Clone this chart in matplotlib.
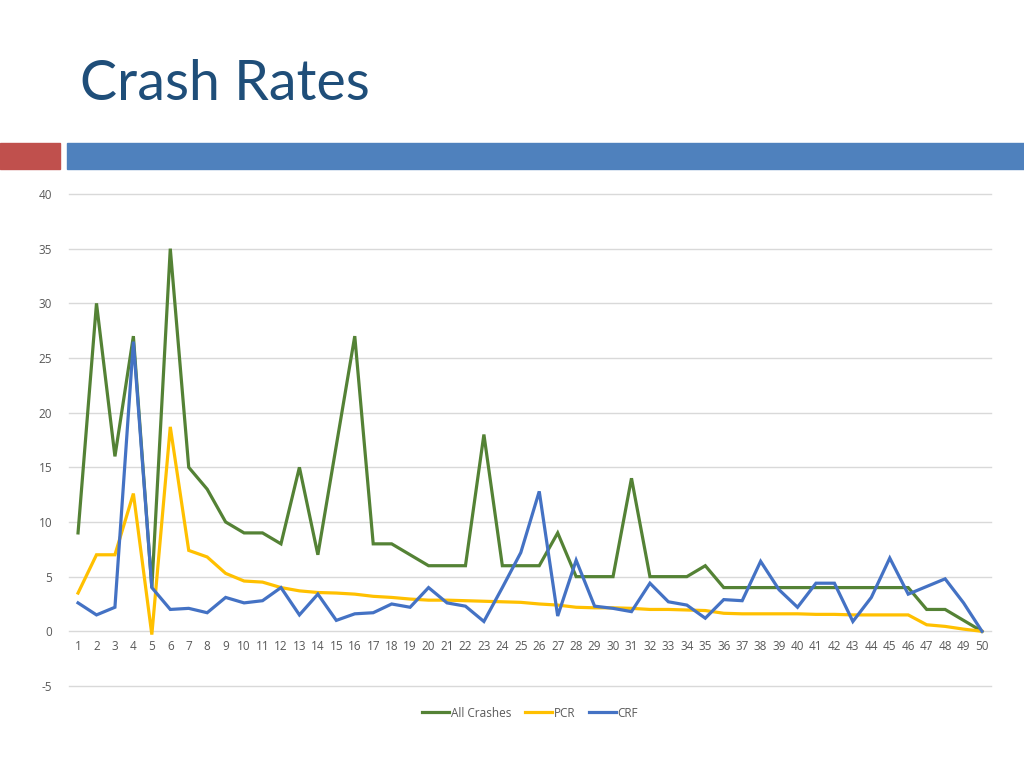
import matplotlib
matplotlib.use('Agg')
from matplotlib import pyplot as plt
from matplotlib.patches import Rectangle

# data
points = list(range(1, 51))

all_crashes = [9, 30, 16, 27, 4, 35, 15, 13, 10, 9,
               9, 8, 15, 7, 17, 27, 8, 8, 7, 6,
               6, 6, 18, 6, 6, 6, 9, 5, 5, 5,
               14, 5, 5, 5, 6, 4, 4, 4, 4, 4,
               4, 4, 4, 4, 4, 4, 2, 2, 1, 0]

pcr = [3.5, 7.0, 7.0, 12.6, -0.3, 18.7, 7.4, 6.8, 5.3, 4.6,
       4.5, 4.0, 3.7, 3.55, 3.5, 3.4, 3.2, 3.1, 2.95, 2.85,
       2.85, 2.8, 2.75, 2.7, 2.65, 2.5, 2.4, 2.2, 2.15, 2.15,
       2.1, 2.0, 2.0, 1.95, 1.9, 1.65, 1.6, 1.6, 1.6, 1.6,
       1.55, 1.55, 1.5, 1.5, 1.5, 1.5, 0.6, 0.45, 0.2, 0.0]

crf = [2.6, 1.5, 2.2, 26.5, 4.0, 2.0, 2.1, 1.7, 3.1, 2.6,
       2.8, 4.0, 1.5, 3.4, 1.0, 1.6, 1.7, 2.5, 2.2, 4.0,
       2.6, 2.3, 0.9, 4.0, 7.2, 12.8, 1.4, 6.5, 2.3, 2.1,
       1.8, 4.4, 2.7, 2.4, 1.2, 2.9, 2.8, 6.4, 3.8, 2.2,
       4.4, 4.4, 0.9, 3.1, 6.7, 3.4, 4.1, 4.8, 2.6, 0.0]

series_names = ['All Crashes', 'PCR', 'CRF']
series_colors = ['#548235', '#FFC000', '#4472C4']
y_ticks = list(range(-5, 45, 5))

plt.rcParams['axes.unicode_minus'] = False

fig = plt.figure(figsize=(10.24, 7.68), dpi=100)

# slide title and header bars
fig.text(80 / 1024, 1 - 84 / 768, 'Crash Rates', fontsize=40, color='#1F4E79',
         family='Lato', va='center', ha='left')
fig.patches.append(Rectangle((0, 1 - 169 / 768), 60 / 1024, 26 / 768,
                             transform=fig.transFigure, color='#C0504D'))
fig.patches.append(Rectangle((67 / 1024, 1 - 169 / 768), 1 - 67 / 1024, 26 / 768,
                             transform=fig.transFigure, color='#4F81BD'))

ax = fig.add_axes([0.0672, 0.1068, 0.9008, 0.6406])

for vals, name, col in zip([all_crashes, pcr, crf], series_names, series_colors):
    ax.plot(points, vals, color=col, linewidth=2.3, label=name,
            solid_joinstyle='miter')

ax.set_xlim(0.5, 50.5)
ax.set_ylim(-5, 40)
ax.set_yticks(y_ticks)
ax.set_xticks(points)
ax.grid(axis='y', color='#D9D9D9', linewidth=1)
ax.set_axisbelow(True)
for gl in ax.get_ygridlines():
    gl.set_clip_on(False)
for s in ax.spines.values():
    s.set_visible(False)
ax.spines['bottom'].set_position(('data', 0))
ax.tick_params(length=0, labelsize=8.5, labelcolor='#595959', pad=6)
ax.tick_params(axis='y', pad=12)
for lbl in ax.get_xticklabels() + ax.get_yticklabels():
    lbl.set_family('Open Sans')

leg = ax.legend(loc='center', bbox_to_anchor=(0.5, -0.055), ncol=3,
                frameon=False, handlelength=2.3, handletextpad=0.1,
                columnspacing=1.2, prop={'family': 'Open Sans', 'size': 8.5})
for t in leg.get_texts():
    t.set_color('#595959')

fig.savefig('out.png', dpi=100)
